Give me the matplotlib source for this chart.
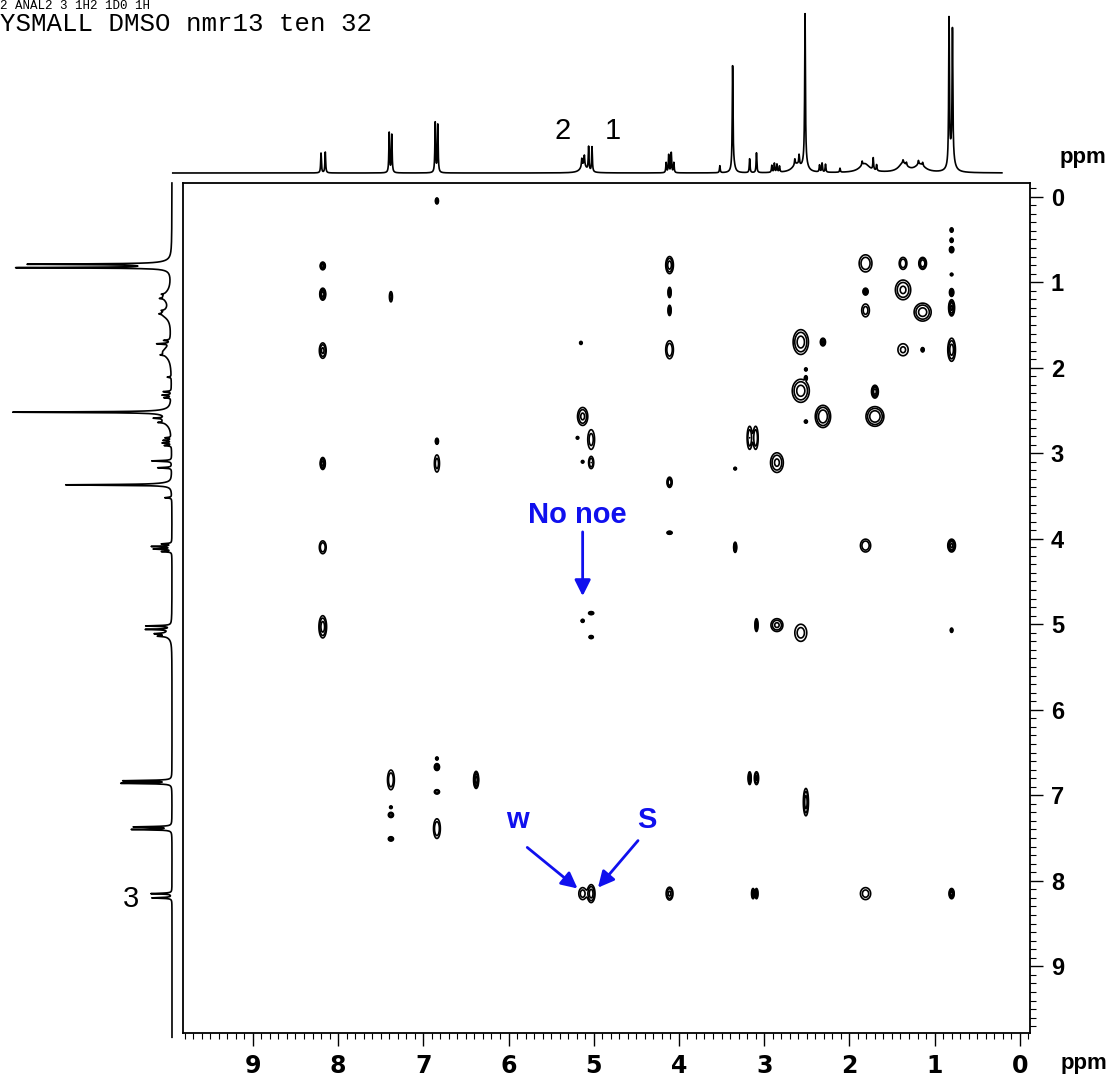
import numpy as np
import matplotlib.pyplot as plt
from matplotlib.ticker import MultipleLocator

# ---- 1D proton spectrum: sharp lines (ppm, height, half width) ----
line_ppm = [8.20, 8.15, 7.40, 7.37, 6.86, 6.83, 5.14, 5.11, 5.06, 5.02,
            4.15, 4.12, 4.09, 4.06, 3.52, 3.37, 3.17, 3.09, 2.91, 2.88,
            2.85, 2.82, 2.64, 2.59, 2.52, 2.35, 2.32, 2.28, 2.11, 1.85,
            1.72, 1.68, 1.37, 1.33, 1.19, 1.14, 0.83, 0.79]
line_height = [20, 21, 40, 38, 50, 48, 8, 10, 24, 25,
               10, 18, 20, 10, 7, 101, 14, 20, 7, 9,
               8, 6, 6, 10, 147, 7, 9, 8, 4, 4,
               12, 6, 3, 3, 4, 3, 145, 125]
line_hw = 0.005

# broad humps under the sharp lines
hump_ppm = [5.12, 3.36, 2.62, 2.52, 1.82, 1.37, 1.17, 0.80]
hump_height = [8, 8, 8, 10, 9, 9, 8, 20]
hump_hw = [0.04, 0.02, 0.06, 0.03, 0.07, 0.06, 0.07, 0.03]

# ---- NOESY cross peaks (F2 ppm, F1 ppm, contour width F2, F1 in ppm, intensity) ----
cross_f2 = [6.84, 8.18, 8.18, 7.38, 8.18, 6.84, 8.18, 6.84, 8.18, 8.18,
            5.13, 5.03, 5.03, 5.19, 5.13, 5.15,
            4.11, 4.11, 4.11, 4.11, 4.11, 4.11, 3.34, 3.34,
            3.17, 3.10, 2.85, 3.09, 2.85, 2.57,
            2.57, 2.31, 2.51, 2.51, 2.57, 2.51, 2.31, 1.70, 1.70,
            1.81, 1.81, 1.81, 1.37, 1.14, 1.37, 1.14, 1.37, 1.14,
            0.80, 0.80, 0.80, 0.80, 0.80, 0.80, 0.80,
            1.81, 0.80, 0.80,
            5.03, 5.13, 5.03,
            3.17, 3.09, 2.51, 7.38, 7.38, 7.38, 7.38,
            6.84, 6.84, 6.84, 6.84, 6.38,
            5.13, 5.03, 4.11, 3.13, 3.09, 1.81, 0.80]
cross_f1 = [0.05, 0.81, 1.14, 1.17, 1.80, 2.86, 3.12, 3.12, 4.10, 5.03,
            2.57, 2.84, 3.11, 2.82, 3.10, 1.71,
            0.80, 1.12, 1.33, 1.79, 3.34, 3.93, 3.18, 4.10,
            2.82, 2.82, 3.11, 5.01, 5.01, 5.10,
            1.70, 1.70, 2.02, 2.12, 2.27, 2.63, 2.57, 2.57, 2.28,
            0.78, 1.11, 1.33, 0.78, 0.78, 1.09, 1.35, 1.79, 1.79,
            0.39, 0.51, 0.62, 0.91, 1.12, 1.30, 1.79,
            4.08, 4.08, 5.07,
            4.87, 4.96, 5.15,
            6.80, 6.80, 7.08, 6.82, 7.14, 7.23, 7.51,
            6.57, 6.67, 6.96, 7.39, 6.82,
            8.15, 8.15, 8.15, 8.15, 8.15, 8.15, 8.15]
cross_wx = [0.035, 0.06, 0.07, 0.035, 0.08, 0.035, 0.06, 0.06, 0.08, 0.09,
            0.12, 0.08, 0.06, 0.03, 0.03, 0.03,
            0.09, 0.035, 0.035, 0.09, 0.06, 0.06, 0.03, 0.035,
            0.06, 0.06, 0.15, 0.035, 0.14, 0.14,
            0.18, 0.06, 0.03, 0.03, 0.20, 0.035, 0.18, 0.21, 0.08,
            0.15, 0.06, 0.09, 0.09, 0.09, 0.18, 0.20, 0.12, 0.035,
            0.035, 0.035, 0.05, 0.03, 0.05, 0.07, 0.09,
            0.12, 0.09, 0.03,
            0.06, 0.035, 0.05,
            0.035, 0.05, 0.06, 0.08, 0.03, 0.06, 0.06,
            0.03, 0.06, 0.06, 0.08, 0.06,
            0.09, 0.09, 0.08, 0.035, 0.035, 0.12, 0.06]
cross_wy = [0.07, 0.09, 0.14, 0.12, 0.18, 0.07, 0.14, 0.20, 0.15, 0.26,
            0.21, 0.23, 0.14, 0.03, 0.03, 0.035,
            0.20, 0.12, 0.12, 0.21, 0.12, 0.035, 0.03, 0.12,
            0.27, 0.27, 0.23, 0.15, 0.15, 0.20,
            0.29, 0.09, 0.035, 0.05, 0.27, 0.035, 0.26, 0.23, 0.15,
            0.20, 0.08, 0.15, 0.14, 0.14, 0.23, 0.21, 0.14, 0.05,
            0.05, 0.05, 0.07, 0.03, 0.09, 0.19, 0.27,
            0.15, 0.15, 0.05,
            0.035, 0.035, 0.035,
            0.15, 0.15, 0.32, 0.23, 0.03, 0.06, 0.05,
            0.035, 0.08, 0.05, 0.23, 0.20,
            0.14, 0.21, 0.15, 0.12, 0.12, 0.14, 0.12]
cross_amp = [8, 12, 12, 3, 5, 10, 12, 3, 4, 6,
             5, 3, 4, 3, 3, 3,
             6, 10, 10, 4, 8, 8, 5, 10,
             4, 4, 5, 10, 5, 3,
             6, 10, 5, 5, 6, 6, 8, 8, 12,
             4, 10, 3, 4, 8, 5, 6, 2.5, 8,
             6, 8, 10, 4, 10, 10, 6,
             4, 10, 5,
             6, 6, 6,
             10, 5, 6, 4, 4, 6, 6,
             4, 12, 8, 4, 12,
             3, 6, 5, 6, 6, 3, 12]

X_LIM = (9.82, -0.12)
Y_LIM = (9.78, -0.16)
BLUE = '#1010ee'
W, H = 1108, 1081


def spectrum(ppm):
    s = np.zeros_like(ppm)
    for p, h in zip(line_ppm, line_height):
        s += h / (1 + ((ppm - p) / line_hw) ** 2)
    for p, h, w in zip(hump_ppm, hump_height, hump_hw):
        s += h / (1 + ((ppm - p) / w) ** 2)
    return s


def fx(px):
    return px / W


def fy(py):
    return 1 - py / H


fig = plt.figure(figsize=(W / 100, H / 100), dpi=100)
ax = fig.add_axes([fx(183), fy(1033), fx(1030) - fx(183), fy(183) - fy(1033)])
ax_top = fig.add_axes([fx(183), fy(176), fx(1030) - fx(183), fy(0) - fy(176)])
ax_left = fig.add_axes([0, fy(1033), fx(180), fy(183) - fy(1033)])

# ---- 2D contour map ----
gx = np.linspace(-0.12, 9.82, 2400)
gy = np.linspace(-0.16, 9.78, 2400)
Z = np.zeros((gy.size, gx.size))
for x0, y0, wx, wy, a in zip(cross_f2, cross_f1, cross_wx, cross_wy, cross_amp):
    k = np.sqrt(2 * np.log(a))
    sx, sy = wx / 2 / k, wy / 2 / k
    ix = np.where(np.abs(gx - x0) < 5 * sx)[0]
    iy = np.where(np.abs(gy - y0) < 5 * sy)[0]
    xx = gx[ix][None, :]
    yy = gy[iy][:, None]
    Z[iy[0]:iy[-1] + 1, ix[0]:ix[-1] + 1] += a * np.exp(
        -0.5 * ((xx - x0) / sx) ** 2 - 0.5 * ((yy - y0) / sy) ** 2)
ax.contour(gx, gy, Z, levels=[1, 2, 4, 8], colors='k', linewidths=1.2)

ax.set_xlim(*X_LIM)
ax.set_ylim(*Y_LIM)
ax.xaxis.set_minor_locator(MultipleLocator(0.1))
ax.yaxis.set_minor_locator(MultipleLocator(0.1))
ax.yaxis.tick_right()
ax.tick_params(axis='x', which='both', direction='out', bottom=True, top=False)
ax.tick_params(axis='y', which='both', direction='out', right=True, left=False)
ax.tick_params(which='major', length=9, width=1.0, pad=6, labelsize=17)
ax.tick_params(which='minor', length=4, width=0.8)
ax.set_xticks(range(0, 10))
ax.set_yticks(range(0, 10))
ax.set_xticklabels([str(i) for i in range(0, 10)], fontweight='bold',
                   family=['Liberation Sans Narrow', 'DejaVu Sans'])
ax.set_yticklabels([str(i) for i in range(0, 10)], fontweight='bold',
                   family=['Liberation Sans', 'DejaVu Sans'])
for s in ax.spines.values():
    s.set_linewidth(1.3)

# ---- 1D projections ----
ppm_top = np.linspace(9.94, 0.21, 8000)
ax_top.plot(ppm_top, spectrum(ppm_top), color='k', lw=1.2, clip_on=False)
ax_top.set_xlim(*X_LIM)
ax_top.set_ylim(-3, 173)
ax_top.axis('off')

ppm_left = np.linspace(-0.16, 9.83, 8000)
ax_left.plot(spectrum(ppm_left), ppm_left, color='k', lw=1.2, clip_on=False)
ax_left.set_ylim(*Y_LIM)
ax_left.set_xlim(172, -8)
ax_left.axis('off')

# ---- text ----
fig.text(fx(0), fy(9), "2 ANAL2 3 1H2 1D0 1H", family='Liberation Mono', fontsize=9,
         va='baseline', ha='left')
fig.text(fx(0), fy(31), "YSMALL DMSO nmr13 ten 32", family='Liberation Mono', fontsize=18.5,
         va='baseline', ha='left')
fig.text(fx(563), fy(131), "2", fontsize=21, ha='center', va='center',
         family=['Liberation Sans', 'DejaVu Sans'])
fig.text(fx(613), fy(131), "1", fontsize=21, ha='center', va='center',
         family=['Liberation Sans', 'DejaVu Sans'])
fig.text(fx(131), fy(899), "3", fontsize=21, ha='center', va='center',
         family=['Liberation Sans', 'DejaVu Sans'])
fig.text(fx(1083), fy(158), "ppm", fontsize=16, fontweight='bold', ha='center', va='center',
         family=['Liberation Sans', 'DejaVu Sans'])
fig.text(fx(1084), fy(1064), "ppm", fontsize=16, fontweight='bold', ha='center', va='center',
         family=['Liberation Sans', 'DejaVu Sans'])

# ---- blue annotations ----
txt = dict(color=BLUE, fontsize=21, fontweight='bold', ha='center', va='center',
           family=['Liberation Sans', 'DejaVu Sans'])
arrow = dict(arrowstyle='-|>', color=BLUE, lw=2, mutation_scale=24, shrinkA=0, shrinkB=0)
ax.text(5.19, 3.72, "No noe", **txt)
ax.annotate("", xy=(5.13, 4.67), xytext=(5.13, 3.92), arrowprops=arrow)
ax.text(5.89, 7.29, "w", **txt)
ax.annotate("", xy=(5.19, 8.09), xytext=(5.78, 7.61), arrowprops=arrow)
ax.text(4.38, 7.29, "S", **txt)
ax.annotate("", xy=(4.95, 8.08), xytext=(4.48, 7.53), arrowprops=arrow)

fig.savefig("out.png", dpi=100)
